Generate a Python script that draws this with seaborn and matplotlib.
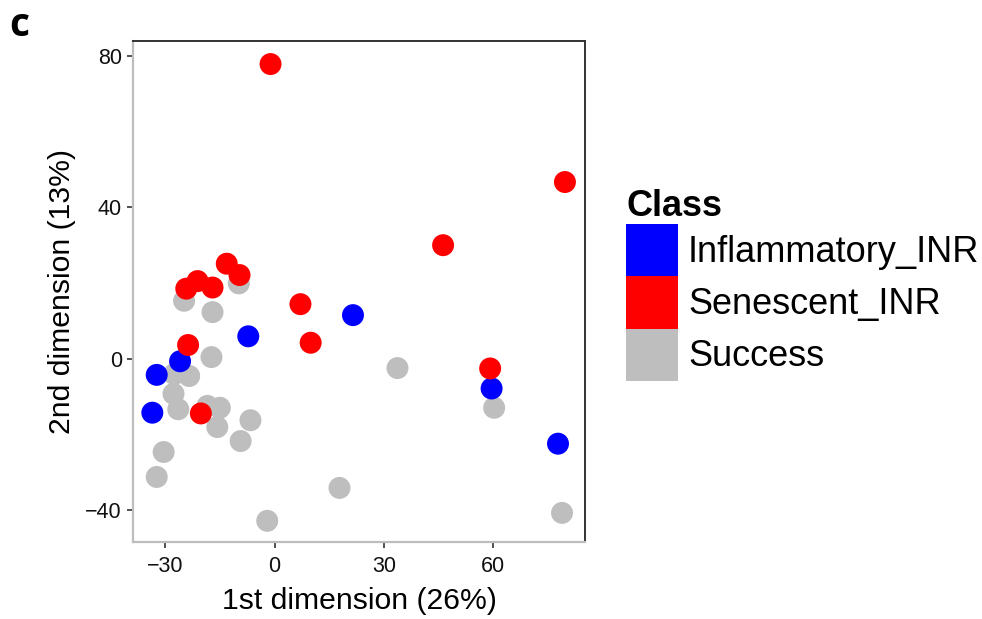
import numpy as np
import pandas as pd
import seaborn as sns
import matplotlib.pyplot as plt
from matplotlib.patches import Patch

# MDS coordinates
success_x = [-24.8, -9.8, -17.0, -17.3, -27.5, -23.4, -27.7, -26.4, -18.4, -15.0,
             -15.7, -6.6, -9.3, -30.4, -32.3, -2.0, 17.8, 33.7, 60.2, 78.8]
success_y = [15.3, 19.9, 12.3, 0.4, -4.1, -4.6, -9.3, -13.4, -12.5, -13.0,
             -18.1, -16.3, -21.8, -24.7, -31.3, -42.9, -34.2, -2.5, -13.0, -40.8]

inflammatory_x = [21.5, -7.2, -25.9, -32.3, -33.5, 59.5, 77.7]
inflammatory_y = [11.5, 5.9, -0.7, -4.3, -14.3, -7.9, -22.5]

senescent_x = [-1.1, 79.6, 46.2, 7.1, 9.9, 59.1, -13.1, -9.6, -21.1, -24.2, -17.0, -23.7, -20.2]
senescent_y = [77.9, 46.7, 30.0, 14.4, 4.2, -2.6, 25.1, 22.1, 20.5, 18.5, 18.8, 3.6, -14.5]

classes = ["Inflammatory_INR", "Senescent_INR", "Success"]
class_colors = {"Inflammatory_INR": "#0000FF", "Senescent_INR": "#FF0000", "Success": "#BEBEBE"}

x_ticks = [-30, 0, 30, 60]
y_ticks = [-40, 0, 40, 80]

# success first so it sits underneath, then inflammatory, then senescent
df = pd.concat([
    pd.DataFrame({"dim1": success_x, "dim2": success_y, "Class": "Success"}),
    pd.DataFrame({"dim1": inflammatory_x, "dim2": inflammatory_y, "Class": "Inflammatory_INR"}),
    pd.DataFrame({"dim1": senescent_x, "dim2": senescent_y, "Class": "Senescent_INR"}),
], ignore_index=True)

sns.set_style("white")
plt.rcParams["font.family"] = ["Liberation Sans", "DejaVu Sans"]
plt.rcParams["text.color"] = "black"

fig = plt.figure(figsize=(9.82, 6.19), dpi=100)
ax = fig.add_axes([133 / 982, 1 - 542 / 619, (585 - 133) / 982, (542 - 41) / 619])

sns.scatterplot(df, x="dim1", y="dim2", hue="Class", palette=class_colors,
                s=250, linewidth=0, alpha=1, legend=False, ax=ax)

ax.set_xlim(-38.8, 85.1)
ax.set_ylim(-48.5, 84.0)
ax.set_xticks(x_ticks)
ax.set_xticklabels(["\u221230", "0", "30", "60"])
ax.set_yticks(y_ticks)
ax.set_yticklabels(["\u221240", "0", "40", "80"])
ax.tick_params(axis="both", direction="out", length=4, width=1.2, color="#333333",
               labelsize=15.5, labelcolor="#111111", bottom=True, left=True)
ax.tick_params(axis="x", pad=6)
ax.tick_params(axis="y", pad=4)

for side in ["top", "right"]:
    ax.spines[side].set_color("#333333")
    ax.spines[side].set_linewidth(1.4)
for side in ["left", "bottom"]:
    ax.spines[side].set_color("#BDBDBD")
    ax.spines[side].set_linewidth(1.6)

ax.set_xlabel("1st dimension (26%)", fontsize=21.7, color="black", labelpad=7)
ax.set_ylabel("2nd dimension (13%)", fontsize=21.7, color="black", labelpad=7)

handles = [Patch(facecolor=class_colors[c], edgecolor="none", label=c) for c in classes]
leg = fig.legend(handles=handles, title="Class", loc="upper left",
                 bbox_to_anchor=(626 / 982, 1 - 189 / 619), frameon=False,
                 fontsize=26, title_fontproperties={"weight": "bold", "size": 26},
                 handlelength=1.44, handleheight=1.85, labelspacing=0,
                 handletextpad=0.28, borderpad=0, borderaxespad=0, alignment="left",
                 labelcolor="black")
leg.get_title().set_color("black")

fig.text(9 / 982, 1 - 6 / 619, "c", fontsize=28, fontweight="bold", va="top", ha="left",
         family=["Open Sans", "DejaVu Sans"])

plt.savefig("out.png", dpi=100)
